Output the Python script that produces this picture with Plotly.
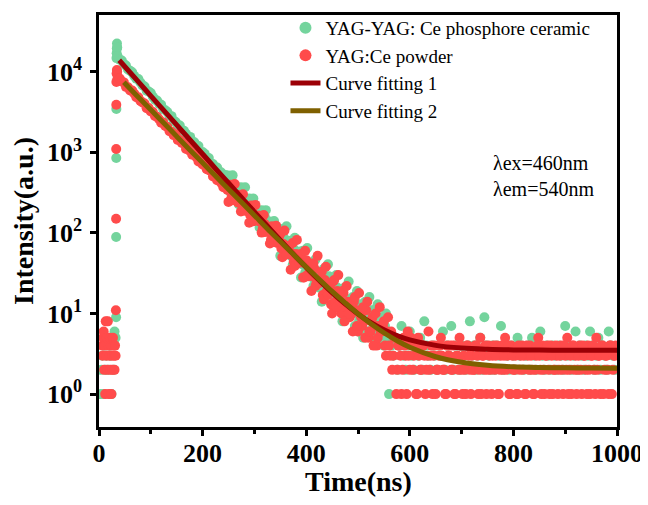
import plotly.graph_objects as go

# ---------------- data ----------------
channel_step_ns = 4          # spacing of the measured channels
decay_start_ns = 36          # first decay channel
mid_start_ns = 250           # interleaved channels in the noisy part of the decay
tail_start_ns = 560          # first channel of the background tail
tail2_start_ns = 562         # interleaved tail channels (powder)

# YAG-YAG: Ce phosphore ceramic
ceramic_pre_time = [2, 4, 6, 8, 10, 12, 14, 16, 18, 20, 22, 24, 26, 28, 30, 32]
ceramic_pre_counts = [1, 2, 3, 1, 4, 2, 3, 5, 2, 4, 3, 1, 5, 2, 6, 5]
ceramic_rise_time = [33.0, 33.1, 33.3, 33.5, 33.8, 34.1, 34.4, 34.7, 35.2]
ceramic_rise_counts = [9, 89, 850, 3450, 14800, 17000, 19500, 22400, 20000]
ceramic_decay_counts = [
    15470, 14090, 13800, 12520, 11940, 10670, 10330, 9850, 8910, 8200,
    8160, 7380, 6790, 6580, 5830, 5710, 5450, 4910, 4520, 4390,
    4030, 3890, 3435, 3340, 3160, 2856, 2817, 2471, 2384, 2196,
    2150, 1845, 1850, 1702, 1546, 1557, 1377, 1333, 1177, 1199,
    1006, 1010, 960, 859, 850, 729, 719, 654, 647, 583,
    561, 482, 524, 430, 424, 411, 339, 370, 319, 318,
    269, 270, 268, 225, 217, 225, 178, 185, 160, 167,
    141, 161, 115, 126, 122, 89, 109, 91, 99, 75,
    78, 83, 64, 68, 51, 63, 54, 43, 59, 41,
    46, 31, 39, 41, 28, 31, 33, 21, 32, 24,
    25, 18, 29, 17, 20, 14, 21, 15, 20, 10,
    14, 15, 10, 15, 10, 13, 6, 13, 10, 8,
    11, 6, 9, 11, 6, 8, 5, 9, 6, 7, 5]
ceramic_mid_counts = [
    516, 319, 519, 321, 354, 226, 368, 234, 369, 234,
    267, 165, 268, 166, 184, 117, 191, 121, 192, 122,
    139, 87, 141, 82, 99, 52, 112, 59, 121, 64,
    80, 40, 87, 44, 53, 28, 60, 32, 65, 34,
    43, 22, 47, 23, 30, 14, 36, 17, 41, 19,
    26, 12, 30, 13, 17, 8, 21, 10, 25, 12,
    16, 7, 19, 8, 11, 5, 14, 6, 16, 8,
    11, 5, 13, 6, 8, 4, 10, 5]
ceramic_tail_counts = [
    1, 4, 3, 5, 2, 4, 7, 3, 2, 4, 6,
    3, 2, 4, 3, 5, 2, 8, 4, 3, 2,
    4, 3, 2, 4, 3, 6, 2, 4, 3, 7, 2, 4, 3, 2, 4,
    3, 2, 4, 8, 3, 4, 2, 3, 5, 2, 9, 4, 3, 2, 4,
    2, 4, 3, 7, 2, 4, 3, 2, 4, 3, 2, 5, 3, 4, 2,
    3, 4, 2, 5, 3, 2, 4, 6, 3, 2, 4, 3, 2, 4, 3,
    2, 4, 3, 2, 7, 3, 4, 2, 3, 6, 2, 4, 3, 2, 4,
    3, 6, 4, 2, 3, 5, 2, 4, 3, 2, 6, 4, 3, 2]

# YAG:Ce powder
powder_pre_time = [6, 7, 8, 9, 10, 11, 12, 13, 14, 15, 16, 17, 18, 19, 20,
                   21, 22, 23, 24, 25, 26, 27, 28, 29, 30, 31, 32]
powder_pre_counts = [4, 3, 5, 6, 2, 4, 1, 8, 3, 5, 2, 8, 4, 1, 3,
                     5, 2, 4, 1, 3, 2, 5, 4, 3, 2, 4, 3]
powder_rise_time = [32.6, 33.0, 33.2, 33.4, 33.6, 34.0, 34.5, 35.0]
powder_rise_counts = [11, 150, 1100, 3900, 7500, 9500, 10500, 10000]
powder_decay_counts = [
    8400, 8235, 7563, 7387, 6507, 6413, 5863, 5847, 5369, 4848,
    4818, 4352, 4163, 4050, 3536, 3543, 3228, 3165, 2824, 2770,
    2575, 2335, 2357, 2121, 2064, 1837, 1806, 1638, 1678, 1424,
    1427, 1310, 1302, 1103, 1133, 1035, 938, 956, 874, 773,
    784, 706, 716, 619, 604, 586, 503, 511, 452, 481,
    418, 369, 397, 342, 346, 278, 303, 280, 239, 266,
    222, 229, 192, 197, 166, 187, 158, 144, 163, 136,
    112, 129, 107, 118, 82, 100, 88, 75, 91, 64,
    73, 64, 69, 54, 56, 44, 55, 42, 50, 43,
    28, 46, 29, 36, 29, 36, 24, 26, 27, 17,
    26, 19, 21, 13, 25, 14, 19, 16, 10, 18,
    12, 14, 9, 10, 14, 11, 6, 11, 7, 8,
    11, 5, 6, 9, 7, 4, 7, 6, 7, 4, 6]
powder_mid_counts = [
    243, 398, 255, 405, 260, 296, 185, 302, 188, 209,
    134, 219, 140, 223, 143, 163, 101, 167, 103, 115,
    74, 121, 77, 123, 78, 98, 50, 107, 54, 66,
    35, 75, 39, 82, 43, 55, 28, 60, 30, 37,
    19, 42, 22, 52, 24, 33, 15, 38, 17, 21,
    10, 26, 12, 30, 14, 19, 8, 22, 10, 13,
    6, 16, 7, 18, 9, 12, 5, 14, 6, 8,
    4, 10, 5, 12, 6, 8, 3, 9]
powder_tail_counts = [
    4, 6, 3, 5, 2, 4, 1, 5, 3, 6, 2,
    4, 3, 1, 5, 2, 4, 3, 2, 6, 3,
    1, 4, 2, 3, 5, 2, 1, 4, 3, 2, 4, 1, 3, 5, 2,
    3, 1, 4, 2, 3, 2, 4, 1, 5, 3, 2, 1, 4, 2, 3,
    2, 4, 1, 3, 2, 5, 3, 1, 4, 2, 3, 1, 2, 4, 3,
    1, 3, 4, 2, 1, 3, 5, 2, 4, 1, 3, 2, 4, 1, 2,
    3, 2, 4, 1, 3, 5, 2, 1, 4, 3, 2, 4, 1, 3, 2,
    4, 1, 3, 2, 5, 3, 1, 4, 2, 3, 1, 4, 2, 3]
powder_tail2_counts = [
    3, 2, 5, 1, 4, 3, 2, 4, 1, 3, 5,
    2, 4, 1, 3, 2, 4, 1, 3, 2, 4,
    3, 1, 2, 4, 3, 2, 1, 3, 4, 2, 1, 3, 2, 4, 1,
    2, 4, 3, 1, 2, 4, 3, 2, 1, 3, 4, 2, 3, 1, 4,
    3, 1, 2, 4, 3, 2, 4, 1, 3, 2, 1, 4, 3, 2, 1,
    4, 2, 3, 1, 2, 4, 3, 1, 2, 3, 4, 1, 3, 2, 4,
    1, 3, 2, 4, 2, 1, 3, 4, 2, 1, 3, 2, 4, 3, 1,
    2, 3, 4, 1, 2, 3, 4, 1, 3, 2, 4, 1, 3, 4]

# fitted curves
fit1_time = [39, 60, 80, 100, 125, 150, 175, 200, 225, 250, 275, 300, 325, 350, 375,
             400, 425, 450, 475, 500, 525, 550, 575, 600, 650, 700, 750, 800, 850,
             900, 950, 1000]
fit1_values = [13910, 9800, 7020, 5030, 3320, 2190, 1445, 955, 630, 417, 276, 183, 122,
               81.5, 54.9, 37.4, 25.9, 18.2, 13.2, 9.9, 7.7, 6.28, 5.33, 4.71, 4.03,
               3.73, 3.60, 3.54, 3.52, 3.51, 3.50, 3.50]
fit2_time = [48, 60, 80, 100, 125, 150, 175, 200, 225, 250, 275, 300, 325, 350, 375,
             400, 425, 450, 475, 500, 525, 550, 575, 600, 650, 700, 750, 800, 850,
             900, 950, 1000]
fit2_values = [7400, 6170, 4560, 3370, 2310, 1580, 1080, 742, 508, 349, 240, 165, 113,
               78.3, 54.3, 37.8, 26.6, 18.8, 13.6, 9.96, 7.48, 5.78, 4.62, 3.82, 2.91,
               2.48, 2.28, 2.18, 2.14, 2.12, 2.11, 2.10]

y_tick_values = [1, 10, 100, 1000, 10000]
y_tick_labels = ["10<sup>0</sup>", "10<sup>1</sup>", "10<sup>2</sup>", "10<sup>3</sup>", "10<sup>4</sup>"]
x_tick_values = [0, 200, 400, 600, 800, 1000]
x_minor_tick_values = [100, 300, 500, 700, 900]

# ---------------- build ----------------
def channel_times(start, n):
    return [start + channel_step_ns * i for i in range(n)]

cer_x = (ceramic_pre_time + ceramic_rise_time
         + channel_times(decay_start_ns, len(ceramic_decay_counts))
         + channel_times(mid_start_ns, len(ceramic_mid_counts))
         + channel_times(tail_start_ns, len(ceramic_tail_counts)))
cer_y = (ceramic_pre_counts + ceramic_rise_counts + ceramic_decay_counts
         + ceramic_mid_counts + ceramic_tail_counts)
pow_x = (powder_pre_time + powder_rise_time
         + channel_times(decay_start_ns, len(powder_decay_counts))
         + channel_times(mid_start_ns, len(powder_mid_counts))
         + channel_times(tail_start_ns, len(powder_tail_counts))
         + channel_times(tail2_start_ns, len(powder_tail2_counts)))
pow_y = (powder_pre_counts + powder_rise_counts + powder_decay_counts
         + powder_mid_counts + powder_tail_counts + powder_tail2_counts)

SERIF = "Liberation Serif"
GREEN = "#74d49d"
RED = "#ff4b4b"

fig = go.Figure()
fig.add_trace(go.Scatter(x=cer_x, y=cer_y, mode="markers", name="YAG-YAG: Ce phosphore ceramic",
                         marker=dict(size=10, color=GREEN, line=dict(width=0))))
fig.add_trace(go.Scatter(x=pow_x, y=pow_y, mode="markers", name="YAG:Ce powder",
                         marker=dict(size=10, color=RED, line=dict(width=0))))
fig.add_trace(go.Scatter(x=fit1_time, y=fit1_values, mode="lines", name="Curve fitting 1",
                         line=dict(color="#9c0006", width=5, shape="spline")))
fig.add_trace(go.Scatter(x=fit2_time, y=fit2_values, mode="lines", name="Curve fitting 2",
                         line=dict(color="#7f6000", width=5, shape="spline")))

fig.add_annotation(x=0.756, y=0.640, xref="paper", yref="paper", xanchor="left", yanchor="middle",
                   text="λex=460nm", showarrow=False, font=dict(family=SERIF, size=20, color="black"))
fig.add_annotation(x=0.756, y=0.578, xref="paper", yref="paper", xanchor="left", yanchor="middle",
                   text="λem=540nm", showarrow=False, font=dict(family=SERIF, size=20, color="black"))
# x-axis title, placed as in the reference
fig.add_annotation(x=0.5, y=-0.132, xref="paper", yref="paper", xanchor="center", yanchor="middle",
                   text="Time(ns)", showarrow=False,
                   font=dict(family=SERIF, size=28, color="black", weight="bold"))

# the page puts the figure 8 px in from the top-left corner of the window
fig.update_layout(
    width=640, height=489,
    margin=dict(l=91, r=31, t=1, b=70),
    paper_bgcolor="white", plot_bgcolor="white",
    showlegend=True,
    legend=dict(x=0.360, y=1.015, xanchor="left", yanchor="top",
                font=dict(family=SERIF, size=19, color="black"),
                bgcolor="rgba(0,0,0,0)", borderwidth=0, tracegroupgap=0,
                itemsizing="constant"),
    xaxis=dict(range=[0, 1000], tickvals=x_tick_values, ticks="outside", ticklen=6, tickwidth=2.5,
               tickcolor="black", showline=True, linecolor="black", linewidth=2.5, mirror=True,
               showgrid=False, zeroline=False, ticklabelstandoff=-5, ticklabeloverflow="allow",
               minor=dict(tickvals=x_minor_tick_values, ticks="outside", ticklen=4,
                          tickwidth=2.5, tickcolor="black"),
               tickfont=dict(family=SERIF, size=26, color="black", weight="bold")),
    yaxis=dict(type="log", range=[-0.408, 4.705], tickvals=y_tick_values, ticktext=y_tick_labels,
               ticks="outside", ticklen=6, tickwidth=2.5, tickcolor="black",
               showline=True, linecolor="black", linewidth=2.5, mirror=True,
               showgrid=False, zeroline=False, ticklabelstandoff=3,
               tickfont=dict(family=SERIF, size=26, color="black", weight="bold"),
               title=dict(text="Intensity(a.u.)", font=dict(family=SERIF, size=28, color="black", weight="bold"),
                          standoff=6)),
)

fig.write_html("out.html")
